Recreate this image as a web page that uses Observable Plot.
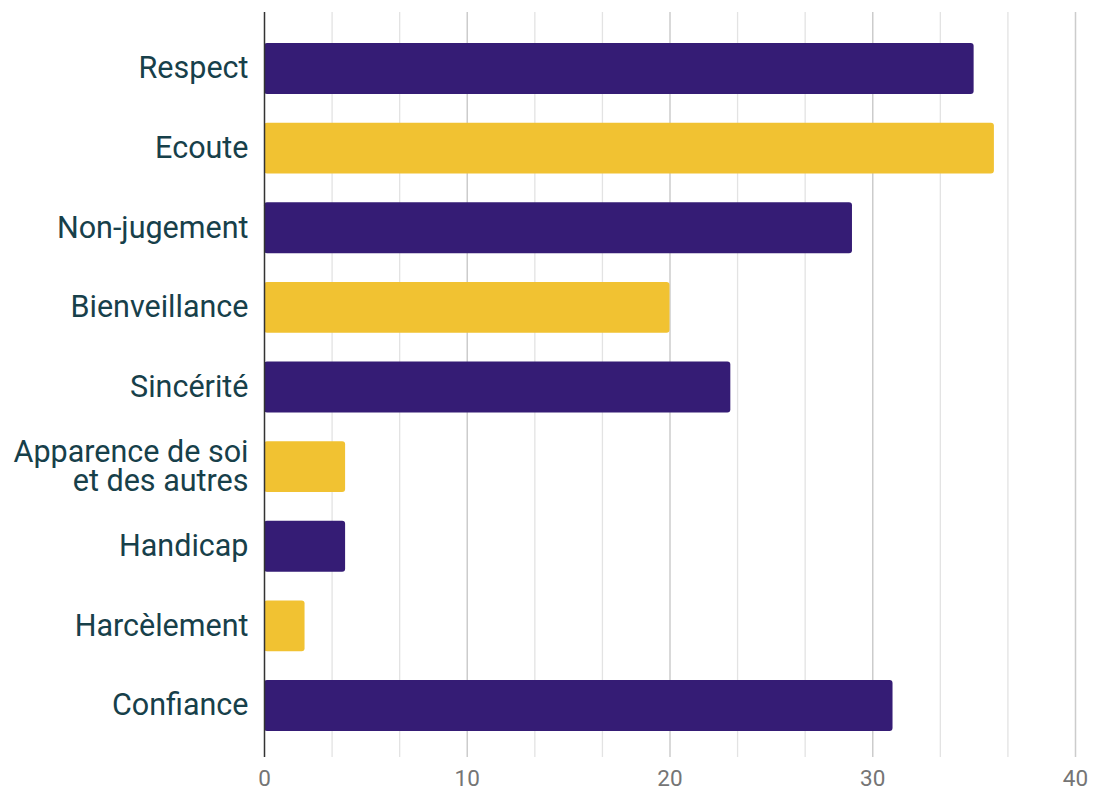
<!DOCTYPE html>
<html>
<head>
<meta charset="utf-8">
<script src="https://cdn.jsdelivr.net/npm/d3@7"></script>
<script src="https://cdn.jsdelivr.net/npm/@observablehq/plot@0.6"></script>
<style>
  html, body { margin: 0; padding: 0; background: #fff; }
  #chart svg { display: block; }
</style>
</head>
<body>
<div id="chart"></div>
<script>
const categories = ["Respect", "Ecoute", "Non-jugement", "Bienveillance", "Sincérité", "Apparence de soi\net des autres", "Handicap", "Harcèlement", "Confiance"];
const values = [35, 36, 29, 20, 23, 4, 4, 2, 31];
const barColors = ["#351c75", "#f1c232", "#351c75", "#f1c232", "#351c75", "#f1c232", "#351c75", "#f1c232", "#351c75"];
const majorTicks = [0, 10, 20, 30, 40];
const minorTicks = [10/3, 20/3, 40/3, 50/3, 70/3, 80/3, 100/3, 110/3];

const data = categories.map((c, i) => ({ category: c, value: values[i], color: barColors[i] }));

const chart = Plot.plot({
  width: 1104,
  height: 792,
  marginLeft: 264,
  marginRight: 29,
  marginTop: 12,
  marginBottom: 35,
  style: { fontFamily: "Roboto, sans-serif", background: "#fff" },
  x: { domain: [0, 40], ticks: majorTicks },
  y: { domain: categories, paddingInner: 0.36, paddingOuter: 0, insetTop: 31, insetBottom: 26, round: false },
  marks: [
    Plot.ruleX(minorTicks, { stroke: "#e3e3e3", strokeWidth: 1.3 }),
    Plot.ruleX(majorTicks.filter(d => d > 0), { stroke: "#cccccc", strokeWidth: 1.5 }),
    Plot.barX(data, { x: "value", y: "category", fill: "color", rx: 3 }),
    Plot.ruleX([0], { stroke: "#333333", strokeWidth: 1.5 }),
    Plot.axisY({ tickSize: 0, tickPadding: 16, fontSize: 30.5, lineHeight: 0.95, fill: "#17404a", label: null }),
    Plot.axisX({ ticks: majorTicks, tickSize: 0, tickPadding: 13, fontSize: 22.5, fill: "#757575", label: null })
  ]
});
document.getElementById("chart").appendChild(chart);
</script>
</body>
</html>
